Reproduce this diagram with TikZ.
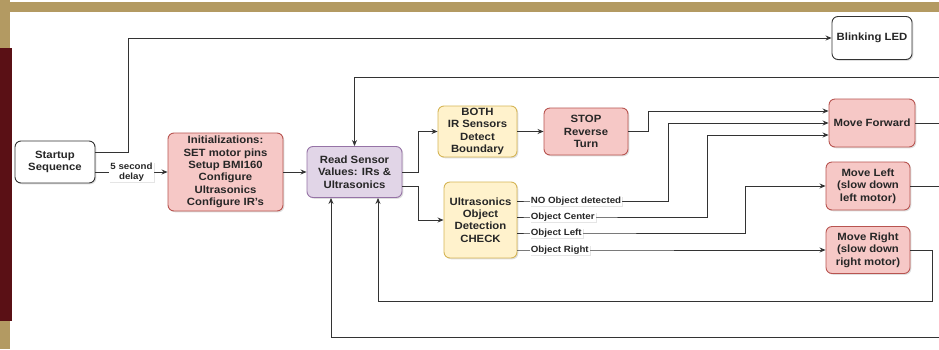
\documentclass[tikz,border=0pt]{standalone}
\usepackage{fontspec}
\setmainfont{Liberation Sans}[FakeStretch=1.08]
\usetikzlibrary{arrows.meta,shadows}

\definecolor{bandgold}{HTML}{B39A62}
\definecolor{bandred}{HTML}{5A1015}
\definecolor{wiregray}{HTML}{333333}
\definecolor{pinkfill}{HTML}{F6C8C6}
\definecolor{pinkline}{HTML}{B85450}
\definecolor{purplefill}{HTML}{E1D5E7}
\definecolor{purpleline}{HTML}{9673A6}
\definecolor{yellowfill}{HTML}{FFF2CC}
\definecolor{yellowline}{HTML}{D6B656}

\tikzset{
  block/.style={rectangle, rounded corners=6pt, line width=0.9pt, align=center, inner sep=1pt,
    text=black!85, font=\fontsize{10.5}{12.4}\selectfont\bfseries,
    drop shadow={opacity=0.25, shadow xshift=1.3pt, shadow yshift=-1.3pt}},
  plainbox/.style={block, draw=wiregray, fill=white},
  pinkbox/.style={block, draw=pinkline, fill=pinkfill},
  purplebox/.style={block, draw=purpleline, fill=purplefill},
  yellowbox/.style={block, draw=yellowline, fill=yellowfill},
  wire/.style={-{Stealth[length=6pt,width=5pt]}, draw=wiregray, line width=0.9pt},
  elbl/.style={fill=white, inner sep=1pt, align=center, text=black!85,
    font=\fontsize{9}{10.5}\selectfont\bfseries,
    drop shadow={opacity=0.2, shadow xshift=1pt, shadow yshift=-1pt}}
}

\begin{document}
\begin{tikzpicture}[x=1pt, y=-1pt]
  \useasboundingbox (0,0) rectangle (939,349);
  \clip (0,0) rectangle (939,349);
  \fill[white] (0,0) rectangle (939,349);
  \fill[bandgold] (0,2) rectangle (939,12);
  \fill[bandgold] (0,0) rectangle (10,48);
  \fill[bandred] (0,48) rectangle (12,321);
  \fill[bandgold] (0,321) rectangle (10,349);

  \node[plainbox, minimum width=80pt, minimum height=42pt] (startup) at (55,162) {Startup\\Sequence};
  \node[plainbox, minimum width=80pt, minimum height=43pt] (blink) at (872,38) {Blinking LED};
  \node[pinkbox, minimum width=115pt, minimum height=78pt] (init) at (225.5,172) {Initializations:\\SET motor pins\\Setup BMI160\\Configure\\Ultrasonics\\Configure IR's};
  \node[purplebox, minimum width=95pt, minimum height=51pt] (read) at (354.5,172) {Read Sensor\\Values: IRs \&\\Ultrasonics};
  \node[yellowbox, minimum width=79pt, minimum height=51pt] (both) at (477.5,131.5) {BOTH\\IR Sensors\\Detect\\Boundary};
  \node[pinkbox, minimum width=84pt, minimum height=47pt] (stop) at (586,131.5) {STOP\\Reverse\\Turn};
  \node[yellowbox, minimum width=73pt, minimum height=76pt] (ultra) at (480.5,220) {Ultrasonics\\Object\\Detection\\CHECK};
  \node[pinkbox, minimum width=86pt, minimum height=48pt] (mvfwd) at (872,123) {Move Forward};
  \node[pinkbox, minimum width=84pt, minimum height=48pt] (mvleft) at (868,186) {Move Left\\(slow down\\left motor)};
  \node[pinkbox, minimum width=84pt, minimum height=47pt] (mvright) at (868,250) {Move Right\\(slow down\\right motor)};

  \draw[wire] ([yshift=10pt]startup.east) -| (128,38) -- (blink.west);
  \draw[wire] (startup.east |- init.west) -- node[elbl]{5 second\\delay} (init.west);
  \draw[wire] (init.east) -- (read.west);
  \draw[wire] (read.east) -- ++(16,0) |- (both.west);
  \draw[wire] ([yshift=-14pt]read.east) -- ++(16,0) |- (ultra.west);
  \draw[wire] (both.east) -- (stop.west);
  \draw[wire] (stop.east) -- ++(20,0) |- ([yshift=12pt]mvfwd.west);

  \draw[wire] ([yshift=19pt]ultra.east) -- ++(12,0) node[elbl, anchor=west]{NO Object detected} -| (668,123) -- (mvfwd.west);
  \draw[wire] ([yshift=3pt]ultra.east) -- ++(12,0) node[elbl, anchor=west]{Object Center} -| (707,135) -- ([yshift=-12pt]mvfwd.west);
  \draw[wire] ([yshift=-13pt]ultra.east) -- ++(12,0) node[elbl, anchor=west]{Object Left} -| (745,186) -- (mvleft.west);
  \draw[wire] ([yshift=-30pt]ultra.east) -- ++(12,0) node[elbl, anchor=west]{Object Right} -- (mvright.west);

  \draw[wire] (mvfwd.east) -- (950,123) -- (950,77) -| (read.north);
  \draw[wire] (mvleft.east) -- (950,186) -- (950,337) -| ([xshift=-23.5pt]read.south);
  \draw[wire] (mvright.east) -- (932,250) -- (932,301) -| ([xshift=23.5pt]read.south);
\end{tikzpicture}
\end{document}
